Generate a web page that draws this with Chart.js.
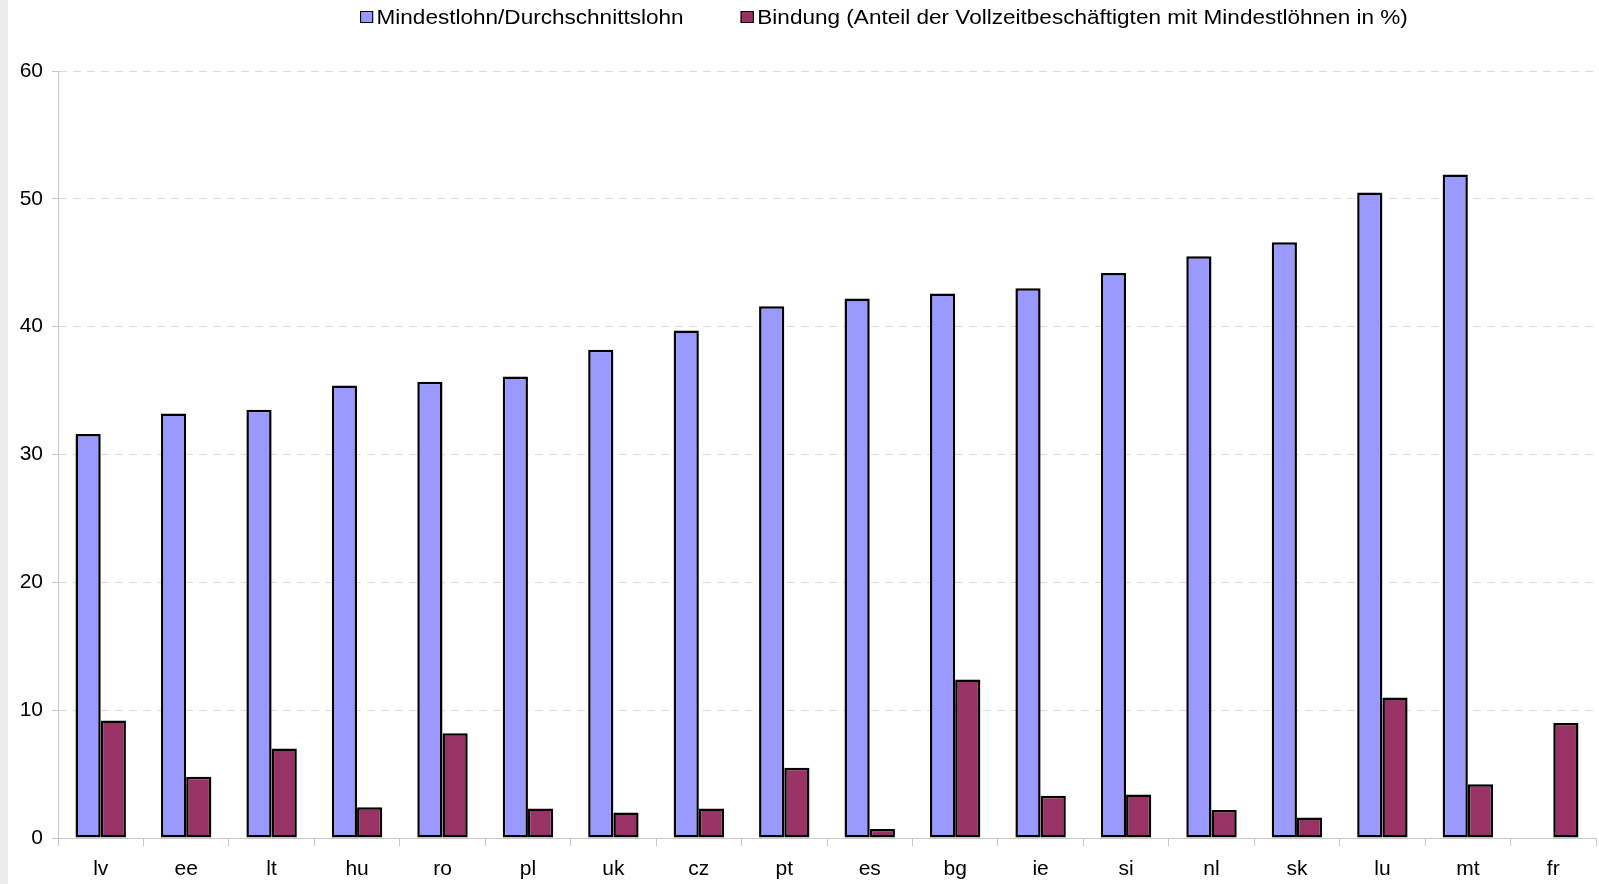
<!DOCTYPE html>
<html lang="de">
<head>
    <meta charset="UTF-8" />
    <title>Mindestlohn und Bindung</title>
    <script src="https://cdn.jsdelivr.net/npm/chart.js"></script>
    <style>
        html, body { margin: 0; padding: 0; background: #fff; }
        body { width: 1599px; height: 884px; position: relative; overflow: hidden; font-family: "Liberation Sans", Arial, sans-serif; }
        .strip { position: absolute; left: 0; top: 0; width: 8px; height: 884px; background: #ececec; }
        .chart-box { position: absolute; left: 8px; top: 0; width: 1591px; height: 884px; }
        .legend { position: absolute; top: 5px; left: 360px; display: flex; font-size: 20.5px; color: #000; white-space: nowrap;
                  transform: scaleX(1.1); transform-origin: left top; }
        .legend span.item { display: flex; align-items: center; margin-right: 52px; }
        .legend span.box { width: 10px; height: 10px; border: 1.5px solid #000; margin-right: 3px; display: inline-block; }
    </style>
</head>
<body>
    <div class="strip"></div>
    <div class="chart-box">
        <canvas id="wageChart"></canvas>
    </div>
    <div class="legend" id="legend"></div>

    <script>
        // Daten
        const countries = ['lv', 'ee', 'lt', 'hu', 'ro', 'pl', 'uk', 'cz', 'pt', 'es', 'bg', 'ie', 'si', 'nl', 'sk', 'lu', 'mt', 'fr'];
        const ratioValues = [31.6, 33.2, 33.5, 35.4, 35.7, 36.1, 38.2, 39.7, 41.6, 42.2, 42.6, 43.0, 44.2, 45.5, 46.6, 50.5, 51.9, null];
        const bindingValues = [9.2, 4.8, 7.0, 2.4, 8.2, 2.3, 2.0, 2.3, 5.5, 0.7, 12.4, 3.3, 3.4, 2.2, 1.6, 11.0, 4.2, 9.0];
        const seriesLabels = ['Mindestlohn/Durchschnittslohn', 'Bindung (Anteil der Vollzeitbeschäftigten mit Mindestlöhnen in %)'];
        const seriesColors = ['#9999ff', '#993366'];

        const ctx = document.getElementById('wageChart').getContext('2d');
        const tickFont = { family: '"Liberation Sans", Arial, sans-serif', size: 21 };

        new Chart(ctx, {
            type: 'bar',
            data: {
                labels: countries,
                datasets: [ratioValues, bindingValues].map((values, i) => ({
                    label: seriesLabels[i],
                    data: values,
                    backgroundColor: seriesColors[i],
                    borderColor: '#000',
                    borderWidth: 2.5,
                    borderSkipped: false,
                    categoryPercentage: 0.59,
                    barPercentage: 1.0
                }))
            },
            options: {
                responsive: true,
                maintainAspectRatio: false,
                animation: false,
                layout: { padding: { top: 71, right: 3, left: 0, bottom: 0 } },
                plugins: {
                    legend: { display: false },
                    tooltip: { enabled: false }
                },
                scales: {
                    x: {
                        afterFit: scale => { scale.height = 46; },
                        grid: {
                            drawOnChartArea: false,
                            drawTicks: true,
                            tickLength: 8,
                            color: '#c8c8c8'
                        },
                        border: { color: '#c8c8c8', width: 1 },
                        ticks: { color: '#000', padding: 11, font: tickFont }
                    },
                    y: {
                        min: 0,
                        max: 60,
                        afterFit: scale => { scale.width = 50; },
                        grid: {
                            color: '#dcdcdc',
                            tickColor: '#c8c8c8',
                            tickLength: 6,
                            tickBorderDash: []
                        },
                        // in v4 the grid line dash sits under border
                        border: { color: '#c8c8c8', width: 1, dash: [8, 6] },
                        ticks: { stepSize: 10, color: '#000', padding: 9, font: tickFont }
                    }
                }
            }
        });

        // Legende
        const legend = document.getElementById('legend');
        seriesLabels.forEach((label, i) => {
            const item = document.createElement('span');
            item.className = 'item';
            const box = document.createElement('span');
            box.className = 'box';
            box.style.background = seriesColors[i];
            item.appendChild(box);
            item.appendChild(document.createTextNode(label));
            legend.appendChild(item);
        });
    </script>
</body>
</html>
